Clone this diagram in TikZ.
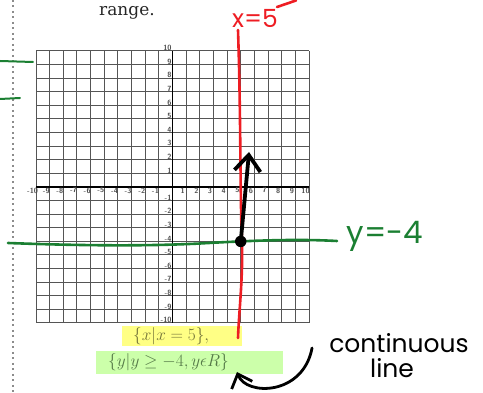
\documentclass[tikz,border=0pt]{standalone}
\usepackage{amsmath}
\usepackage{fontspec}
\usepackage{tikz}
\usetikzlibrary{positioning, arrows.meta, calc}
\newfontfamily\handfont{Poppins}
\newfontfamily\bookfont{DejaVu Serif}
\definecolor{penred}{HTML}{EE1D23}
\definecolor{pengreen}{HTML}{1B7F32}
\definecolor{hlyellow}{HTML}{FFFF85}
\definecolor{hlgreen}{HTML}{CCFFAA}
\definecolor{setolive}{HTML}{75753A}
\definecolor{setgreen}{HTML}{557A48}
\definecolor{gridgrey}{HTML}{555555}
\tikzset{
  gridline/.style={draw=gridgrey, line width=1pt},
  axisline/.style={draw=black, line width=1.9pt},
  ticklabel/.style={font=\fontsize{7.5}{8}\selectfont\sffamily\bfseries, text=black!70, inner sep=0pt},
  highlight/.style={inner ysep=0pt, align=left, font=\fontsize{18.5}{20}\selectfont, anchor=west},
  redpen/.style={draw=penred, line width=2.6pt, line cap=round, line join=round},
  greenpen/.style={draw=pengreen, line width=2.6pt, line cap=round},
  blackpen/.style={draw=black, line width=3.8pt, line cap=round, line join=round},
  hand/.style={font=\handfont\fontsize{#1}{#1}\selectfont, inner sep=0pt},
}

\begin{document}
\begin{tikzpicture}[x=1pt, y=-1pt]
  \useasboundingbox (0,0) rectangle (483,393);
  % margin rule
  \draw[black!45, line width=2pt, dash pattern=on 2pt off 3.5pt] (13,0) -- (13,393);
  % heading fragment
  \node[font=\bookfont\fontsize{17}{20}\selectfont, text=black!85, anchor=base, inner sep=0pt] (range) at (127,16) {range.};

  % coordinate grid
  \begin{scope}[shift={(172.5,187)}, x=13.65pt, y=13.6pt]
    \foreach \k in {-10,...,10} {
      \draw[gridline] (\k,-10) -- (\k,10);
      \draw[gridline] (-10,\k) -- (10,\k);
    }
    \draw[axisline] (-10,0) -- (10,0);
    \draw[axisline] (0,-10) -- (0,10);
    \foreach \k in {-10,...,-1,1,2,...,10} {
      \node[ticklabel] at (\k-0.25,-0.25) {\k};
      \node[ticklabel, anchor=east] at (-0.05,\k+0.22) {\k};
    }
    \coordinate (pt) at (5,-4);
  \end{scope}

  % highlighted answers
  \node[highlight, fill=hlyellow, text=setolive, text width=98pt, inner xsep=11pt, minimum height=20pt] (xset) at (122,336) {$\{x|x=5\},$};
  \node[highlight, fill=hlgreen, text=setgreen, text width=163pt, inner xsep=12pt, minimum height=23pt] (yset) at (96,362.5) {$\{y|y\geq -4, y\epsilon R\}$};

  % green pen
  \draw[greenpen, line width=2pt] (0,61) -- (33,62);
  \draw[greenpen, line width=2pt] (0,99) -- (20,98);
  \draw[greenpen] (8,243) .. controls (90,246) and (150,246) .. (200,243.5) .. controls (260,240) and (300,239) .. (337,241);
  \node[hand=31, text=pengreen] (ylab) at (385,236) {y=-4};

  % red pen
  \draw[redpen] (238,30) .. controls (241,120) and (240,200) .. (242,240) .. controls (243,280) and (239,310) .. (238,338);
  \node[hand=25, text=penred] (xlab) at (255,18) {x=5};
  \draw[redpen] (277,7) -- (296,0.5);

  % black pen
  \node[circle, fill=black, inner sep=0pt, minimum size=11.5pt] (dot) at (pt) {};
  \draw[blackpen, -{Straight Barb[length=16pt, width=26pt]}] (dot.center) .. controls (245,200) .. (249,152);
  \node[hand=25] (cont) at (399,343) {continuous};
  \node[hand=25, below=5pt of cont, xshift=-7pt] (linetxt) {line};
  \coordinate (rtip) at (237,372);
  \draw[blackpen, line width=2.8pt, -{Straight Barb[length=12pt, width=22pt]}] ([xshift=-17pt, yshift=-5pt]cont.west) .. controls (303,396) and (246,396) .. (rtip);
\end{tikzpicture}
\end{document}
